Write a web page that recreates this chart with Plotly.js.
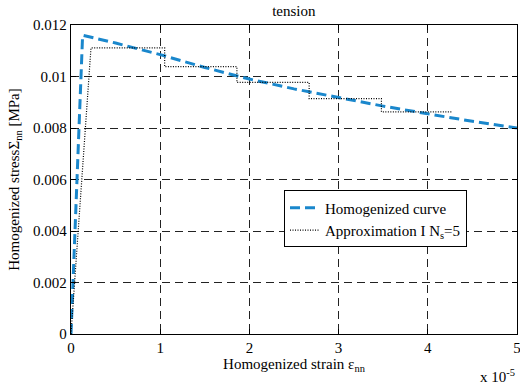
<!DOCTYPE html>
<html>
<head>
<meta charset="utf-8">
<script src="https://cdn.plot.ly/plotly-3.0.1.min.js"></script>
<style>html,body{margin:0;padding:0;background:#fff;}#chart{width:520px;height:385px;}</style>
</head>
<body>
<div id="chart"></div>
<script>
// Homogenized curve (strain in units of 1e-5, stress in MPa)
const homStrain = [0, 0.13, 0.5, 1.0, 1.5, 2.0, 2.5, 3.0, 3.5, 4.0, 4.5, 5.0];
const homStress = [0, 0.01160, 0.01130, 0.01085, 0.01035, 0.00990, 0.00952, 0.00918, 0.00885, 0.00855, 0.00826, 0.00800];

// Approximation I, Ns = 5 (stepwise)
const apxStrain = [0, 0.224, 1.05, 1.05, 1.86, 1.86, 2.67, 2.67, 3.48, 3.48, 4.28];
const apxStress = [0, 0.01111, 0.01111, 0.01038, 0.01038, 0.00977, 0.00977, 0.00914, 0.00914, 0.00863, 0.00863];

const yTickVals = [0, 0.002, 0.004, 0.006, 0.008, 0.01, 0.012];
const yTickText = ['0', '0.002', '0.004', '0.006', '0.008', '0.01', '0.012'];
const xTickVals = [0, 1, 2, 3, 4, 5];
const xTickText = ['0', '1', '2', '3', '4', '5'];

const font = {family: 'Times New Roman, Liberation Serif, DejaVu Serif, serif', size: 15, color: '#000'};

const traces = [
  {x: homStrain, y: homStress, mode: 'lines', name: 'Homogenized curve',
   line: {color: '#1a87cc', width: 3, dash: '10px,5px'}},
  {x: apxStrain, y: apxStress, mode: 'lines', name: 'Approximation I N<sub>s</sub>=5',
   line: {color: '#000', width: 1.2, dash: '1px,1.5px'}}
];

const axisCommon = {
  showline: true, linecolor: '#000', linewidth: 1.3, mirror: 'ticks',
  ticks: 'inside', ticklen: 5, tickcolor: '#000',
  showgrid: true, gridcolor: '#222', gridwidth: 1, griddash: '8px,5px',
  zeroline: false, tickfont: font, ticklabeloverflow: 'allow'
};

const layout = {
  width: 520, height: 385,
  margin: {l: 71, r: 3, t: 25, b: 51},
  paper_bgcolor: '#fff', plot_bgcolor: '#fff',
  font: font,
  title: {text: 'tension', font: font, x: 0.565, xanchor: 'center', y: 0.972, yanchor: 'middle'},
  xaxis: Object.assign({}, axisCommon, {
    range: [0, 5], tickvals: xTickVals, ticktext: xTickText,
    title: {text: 'Homogenized strain ε<sub>nn</sub>', font: font, standoff: 3}
  }),
  yaxis: Object.assign({}, axisCommon, {
    range: [0, 0.012], tickvals: yTickVals, ticktext: yTickText,
    title: {text: 'Homogenized stressΣ<sub>nn</sub> [MPa]', font: font, standoff: 9}
  }),
  showlegend: true,
  legend: {x: 0.4776, y: 0.4645, xanchor: 'left', yanchor: 'top',
    bgcolor: '#fff', bordercolor: '#000', borderwidth: 1, font: font,
    tracegroupgap: 0},
  annotations: [
    {xref: 'paper', yref: 'paper', x: 1, y: -0.1, xanchor: 'right', yanchor: 'top',
     text: 'x 10<sup>-5</sup>', showarrow: false, font: font}
  ]
};

Plotly.newPlot('chart', traces, layout, {staticPlot: true, displayModeBar: false});
</script>
</body>
</html>
